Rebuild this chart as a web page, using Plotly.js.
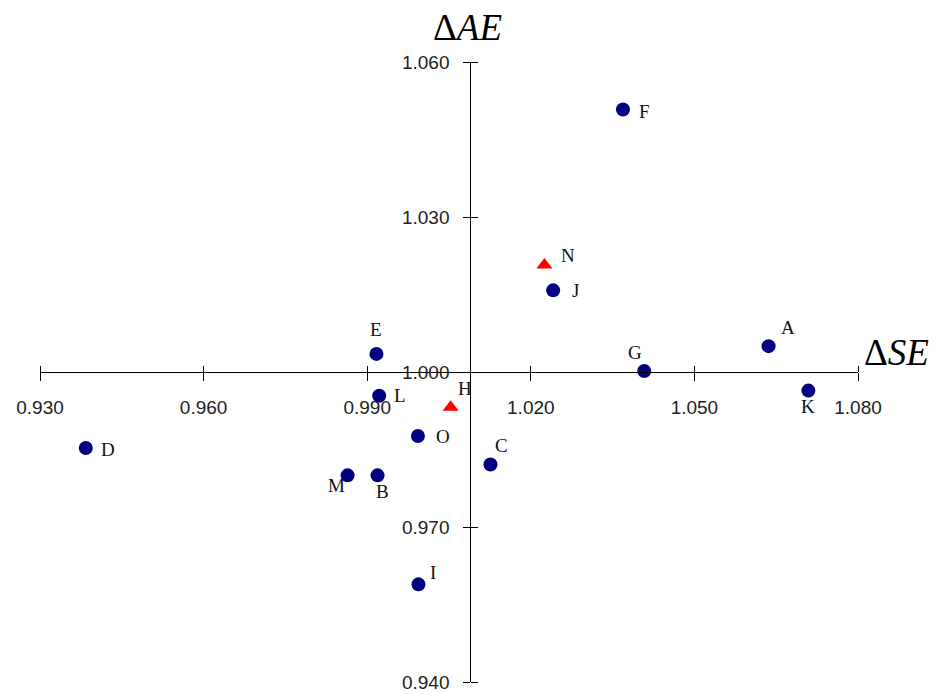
<!DOCTYPE html>
<html>
<head>
<meta charset="utf-8">
<script src="https://cdn.plot.ly/plotly-3.0.1.min.js"></script>
<style>html,body{margin:0;padding:0;background:#fff;}#chart{width:938px;height:694px;}</style>
</head>
<body>
<div id="chart"></div>
<script>
// Data: circles (navy) and triangles (red)
const circleNames = ['F','J','G','A','K','E','L','O','C','M','B','D','I'];
const circleSE    = [1.0369,1.0241,1.0408,1.0636,1.0709,0.9917,0.9922,0.9993,1.0126,0.9864,0.9919,0.9384,0.9994];
const circleAE    = [1.0508,1.0158,1.0002,1.0050,0.9964,1.0035,0.9954,0.9876,0.9821,0.9800,0.9800,0.9853,0.9589];

const triNames = ['N','H'];
const triSE    = [1.0225,1.0053];
const triAE    = [1.0207,0.9932];

const xTickVals = [0.930,0.960,0.990,1.020,1.050,1.080];
const yTickVals = [0.940,0.970,1.000,1.030,1.060];

// Label offsets (px, right / down) — styling only
const circleOffsets = [[22,2],[22,0],[-9,-18],[19,-19],[0,16],[0,-24],[21,0],[25,0],[11,-19],[-11,10],[5,16],[22,2],[15,-12]];
const triOffsets = [[24,-10],[14,-19]];

const traces = [
  {x: circleSE, y: circleAE, mode:'markers', type:'scatter',
   marker:{symbol:'circle', size:14, color:'#000080'}, showlegend:false, hoverinfo:'skip'},
  {x: triSE, y: triAE, mode:'markers', type:'scatter',
   marker:{symbol:'triangle-up', size:14, color:'#ff0000'}, showlegend:false, hoverinfo:'skip'},
  {x: circleSE, y: circleAE, xaxis:'x2', yaxis:'y2', mode:'markers', type:'scatter',
   marker:{opacity:0}, showlegend:false, hoverinfo:'skip'}
];

const labelFont = {family:'Liberation Serif, Times New Roman, serif', size:19, color:'#111'};
const annotations = [];
circleNames.forEach((n,i)=>annotations.push({x:circleSE[i], y:circleAE[i], xref:'x', yref:'y', text:n, showarrow:false,
  xshift:circleOffsets[i][0], yshift:-circleOffsets[i][1], font:labelFont}));
triNames.forEach((n,i)=>annotations.push({x:triSE[i], y:triAE[i], xref:'x', yref:'y', text:n, showarrow:false,
  xshift:triOffsets[i][0], yshift:-triOffsets[i][1], font:labelFont}));

const titleFont = {family:'Liberation Serif, Times New Roman, serif', size:37, color:'#000'};
annotations.push({xref:'paper', yref:'paper', x:0.523, y:1.055, xanchor:'center', yanchor:'middle', text:'Δ<i>AE</i>', showarrow:false, font:titleFont});
annotations.push({xref:'paper', yref:'paper', x:1.047, y:0.532, xanchor:'center', yanchor:'middle', text:'Δ<i>SE</i>', showarrow:false, font:titleFont});

const tickFont = {family:'Liberation Sans, Arial, sans-serif', size:19, color:'#222'};
const yPos = (1.0089-0.930)/(1.080-0.930);

const layout = {
  width:938, height:694,
  margin:{l:40, r:80, t:62, b:12, pad:0},
  paper_bgcolor:'#fff', plot_bgcolor:'#fff',
  showlegend:false,
  xaxis:{range:[0.930,1.080], tickvals:xTickVals, tickformat:'.3f', anchor:'free', position:0.5,
    showline:true, linecolor:'#000', linewidth:1, ticks:'outside', ticklen:8, tickcolor:'#000', tickwidth:1,
    showgrid:false, zeroline:false, tickfont:tickFont, ticklabelstandoff:10},
  yaxis:{range:[0.940,1.060], tickvals:yTickVals, tickformat:'.3f', anchor:'free', position:yPos,
    showline:true, linecolor:'#000', linewidth:1, ticks:'outside', ticklen:7, tickcolor:'#000', tickwidth:1,
    showgrid:false, zeroline:false, tickfont:tickFont, ticklabelstandoff:10},
  xaxis2:{range:[0.930,1.080], tickvals:xTickVals, overlaying:'x', anchor:'free', position:0.5, side:'top',
    showline:false, ticks:'outside', ticklen:6, tickcolor:'#000', tickwidth:1, showticklabels:false,
    showgrid:false, zeroline:false},
  yaxis2:{range:[0.940,1.060], tickvals:yTickVals, overlaying:'y', anchor:'free', position:yPos, side:'right',
    showline:false, ticks:'outside', ticklen:7, tickcolor:'#000', tickwidth:1, showticklabels:false,
    showgrid:false, zeroline:false},
  annotations: annotations
};

Plotly.newPlot('chart', traces, layout, {displayModeBar:false, staticPlot:true});
</script>
</body>
</html>
